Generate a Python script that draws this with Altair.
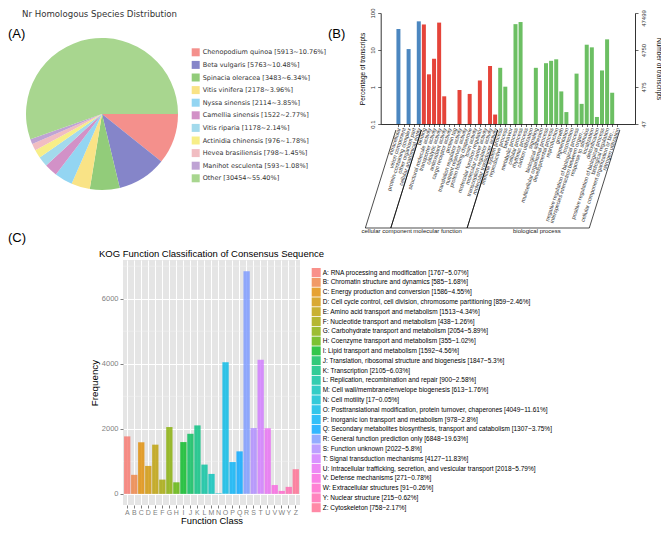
import math
import json
import pandas as pd
import altair as alt

# ---------------- Panel A : Nr homologous species ----------------
species = ["Chenopodium quinoa", "Beta vulgaris", "Spinacia oleracea", "Vitis vinifera",
           "Nyssa sinensis", "Camellia sinensis", "Vitis riparia", "Actinidia chinensis",
           "Hevea brasiliensis", "Manihot esculenta", "Other"]
species_counts = [5913, 5763, 3483, 2178, 2114, 1522, 1178, 976, 798, 593, 30454]
species_pct = ["10.76", "10.48", "6.34", "3.96", "3.85", "2.77", "2.14", "1.78", "1.45", "1.08", "55.40"]
species_colors = ["#F4908C", "#8585C9", "#92CC7A", "#F9E386", "#93D5F2", "#D291C7",
                  "#A3DAEC", "#F7EE88", "#F1BDC2", "#BFA3D4", "#A8D68F"]

# ---------------- Panel B : GO classification ----------------
go_terms = [
    "intracellular", "virion component", "protein-containing complex", "other organism part",
    "cellular anatomical entity",
    "binding", "structural molecule activity", "transporter activity", "catalytic activity",
    "antioxidant activity", "cargo receptor activity", "protein tag", "translation regulator activity",
    "nutrient reservoir activity", "protein folding chaperone", "toxin activity",
    "molecular function regulator", "molecular carrier activity", "transcription regulator activity",
    "molecular transducer activity",
    "immune system process", "reproductive process", "behavior", "metabolic process",
    "cellular process", "rhythmic process", "carbon utilization", "signaling", "biological adhesion",
    "multicellular organismal process", "developmental process", "reproduction", "growth",
    "pigmentation", "locomotion", "negative regulation of biological process",
    "interspecies interaction between organisms", "response to stimulus", "localization",
    "detoxification", "positive regulation of biological process", "biological regulation",
    "cellular component organization or biogenesis", "nitrogen utilization",
]
go_pct = [37, 0, 10.6, 0, 59.5,
          49, 2.2, 5.8, 55, 0.56, 0, 0, 0.83, 0, 0.65, 0, 1.5, 0, 3.7, 0.18,
          3.3, 1.02, 0, 50, 57, 0, 0, 3.3, 0, 4.4, 5.1, 5.6, 0.76, 0.21, 0, 2.3, 0.35,
          13.9, 11.8, 0.155, 2.8, 19.4, 0.7, 0]
go_groups = ["cellular component", "molecular function", "biological process"]
go_group_start = [0, 5, 20]
go_group_end = [4, 19, 43]
go_group_colors = ["#4C87C0", "#E5443A", "#6CBF63"]
go_total = 47499

# ---------------- Panel C : KOG classification ----------------
kog_classes = list("ABCDEFGHIJKLMNOPQRSTUVWYZ")
kog_names = [
    "RNA processing and modification", "Chromatin structure and dynamics",
    "Energy production and conversion",
    "Cell cycle control, cell division, chromosome partitioning",
    "Amino acid transport and metabolism", "Nucleotide transport and metabolism",
    "Carbohydrate transport and metabolism", "Coenzyme transport and metabolism",
    "Lipid transport and metabolism", "Translation, ribosomal structure and biogenesis",
    "Transcription", "Replication, recombination and repair",
    "Cell wall/membrane/envelope biogenesis", "Cell motility",
    "Posttranslational modification, protein turnover, chaperones",
    "Inorganic ion transport and metabolism",
    "Secondary metabolites biosynthesis, transport and catabolism",
    "General function prediction only", "Function unknown", "Signal transduction mechanisms",
    "Intracellular trafficking, secretion, and vesicular transport", "Defense mechanisms",
    "Extracellular structures", "Nuclear structure", "Cytoskeleton",
]
kog_counts = [1767, 585, 1586, 859, 1513, 438, 2054, 355, 1592, 1847, 2105, 900, 613, 17,
              4049, 978, 1307, 6848, 2022, 4127, 2018, 271, 91, 215, 758]
kog_pct = ["5.07", "1.68", "4.55", "2.46", "4.34", "1.26", "5.89", "1.02", "4.56", "5.3",
           "6.03", "2.58", "1.76", "0.05", "11.61", "2.8", "3.75", "19.63", "5.8", "11.83",
           "5.79", "0.78", "0.26", "0.62", "2.17"]
kog_minor = [1000, 3000, 5000, 7000]


def hcl_hex(h, c=100.0, l=65.0):
    hr = math.radians(h)
    U, V = c * math.cos(hr), c * math.sin(hr)
    Xn, Yn, Zn = 95.047, 100.0, 108.883
    den = Xn + 15 * Yn + 3 * Zn
    un, vn = 4 * Xn / den, 9 * Yn / den
    Y = Yn * ((l + 16) / 116) ** 3
    u = U / (13 * l) + un
    v = V / (13 * l) + vn
    X = Y * 9 * u / (4 * v)
    Z = Y * (12 - 3 * u - 20 * v) / (4 * v)
    X, Y, Z = X / 100, Y / 100, Z / 100
    rgb = [3.240479 * X - 1.537150 * Y - 0.498535 * Z,
           -0.969256 * X + 1.875992 * Y + 0.041556 * Z,
           0.055648 * X - 0.204043 * Y + 1.057311 * Z]
    out = []
    for ch in rgb:
        ch = 12.92 * ch if ch <= 0.0031308 else 1.055 * ch ** (1 / 2.4) - 0.055
        out.append(int(round(max(0, min(1, ch)) * 255)))
    return "#%02X%02X%02X" % tuple(out)


kog_colors = [hcl_hex(15 + i * 360 / len(kog_classes)) for i in range(len(kog_classes))]

# ---------------- tables ----------------
pie_labels = [f"{s} [{n}~{p}%]" for s, n, p in zip(species, species_counts, species_pct)]
pie_df = pd.DataFrame({"label": pie_labels, "count": species_counts, "idx": range(len(species))})

grp_of = []
for i in range(len(go_terms)):
    for g, s, e in zip(go_groups, go_group_start, go_group_end):
        if s <= i <= e:
            grp_of.append(g)
go_df = pd.DataFrame({"slot": range(len(go_terms)), "term": go_terms, "pct": go_pct, "group": grp_of})
bar_df = go_df[go_df["pct"] > 0].copy()
bar_df["base"] = 0.1

SLANT = 6.0
grp_df = pd.DataFrame({"group": go_groups, "start": go_group_start, "end": go_group_end})
grp_df["xb_l"] = grp_df["start"] - 0.5 - SLANT
grp_df["xb_r"] = grp_df["end"] + 0.5 - SLANT
grp_df["xlab"] = (grp_df["start"] + grp_df["end"]) / 2 - 4.3
slant_df = pd.concat([
    pd.DataFrame({"xt": grp_df["start"] - 0.5, "xb": grp_df["xb_l"]}),
    pd.DataFrame({"xt": grp_df["end"] + 0.5, "xb": grp_df["xb_r"]}),
], ignore_index=True)

kog_labels = [f"{c}: {n} [{k}~{p}%]" for c, n, k, p in zip(kog_classes, kog_names, kog_counts, kog_pct)]
kog_df = pd.DataFrame({"cls": kog_classes, "count": kog_counts, "label": kog_labels})
minor_df = pd.DataFrame({"v": kog_minor})


def note(txt, x, y, **kw):
    return alt.Chart(pd.DataFrame({"t": [txt]})).mark_text(**kw).encode(
        x=alt.value(x), y=alt.value(y), text="t:N")


# ---------------- top view (pie + GO) ----------------
GO_X0, GO_X1 = 257.7, 512
xsc = alt.Scale(domain=[-2.5, 45.5], range=[GO_X0, GO_X1], nice=False, zero=False)
ysc = alt.Scale(type="log", domain=[0.1, 100], nice=False)
term_expr = json.dumps(go_terms) + "[datum.value]"
xaxis = alt.Axis(
    values=list(range(len(go_terms))), labelExpr=term_expr, labelAngle=-72,
    labelFontSize=5.5, labelFont="Liberation Sans", labelColor="#333333",
    labelOverlap=False, labelLimit=100, labelPadding=1, tickSize=2.5, tickWidth=0.6,
    tickColor="black", domainColor="black", domainWidth=0.8, grid=False, title=None)

bars = alt.Chart(bar_df).mark_bar(size=4).encode(
    x=alt.X("slot:Q", scale=xsc, axis=xaxis),
    y=alt.Y("pct:Q", scale=ysc, axis=alt.Axis(
        orient="left", offset=-GO_X0, values=[0.1, 1, 10, 100], format="~g", labelAngle=-90,
        labelFontSize=6, labelFont="Liberation Sans", labelColor="#333333", labelPadding=2,
        tickSize=3, tickWidth=0.6, tickColor="black", domainColor="black", domainWidth=0.8,
        grid=False, title="Percentage of transcripts", titleFontSize=6.5,
        titleFont="Liberation Sans", titleFontWeight="normal", titleColor="black", titlePadding=4)),
    y2="base:Q",
    color=alt.Color("group:N", scale=alt.Scale(domain=go_groups, range=go_group_colors), legend=None),
)

raxis = alt.Chart(bar_df).mark_point(opacity=0).encode(
    y=alt.Y("pct:Q", scale=ysc, axis=alt.Axis(
        orient="right", values=[0.1, 1, 10, 100],
        labelExpr=f"format(datum.value * {go_total / 100}, 'd')", labelAngle=-90,
        labelOffset={"condition": {"test": "datum.value >= 100", "value": 5}, "value": 0},
        labelFontSize=6, labelFont="Liberation Sans", labelColor="#333333", labelPadding=2,
        tickSize=3, tickWidth=0.6, tickColor="black", domainColor="black", domainWidth=0.8,
        grid=False, title="Number of transcripts", titleFontSize=6.5,
        titleFont="Liberation Sans", titleFontWeight="normal", titleColor="black", titlePadding=9)),
)

BR_TOP, BR_BOT = 117, 215
slants = alt.Chart(slant_df).mark_rule(color="black", strokeWidth=0.7).encode(
    x=alt.X("xt:Q", axis=xaxis), x2="xb:Q", y=alt.value(BR_TOP), y2=alt.value(BR_BOT))
bottoms = alt.Chart(grp_df).mark_rule(color="black", strokeWidth=0.7).encode(
    x=alt.X("xb_l:Q", axis=xaxis), x2="xb_r:Q", y=alt.value(BR_BOT))
grp_text = alt.Chart(grp_df).mark_text(fontSize=6, font="Liberation Sans", color="#222222",
                                       baseline="middle").encode(
    x=alt.X("xlab:Q", axis=xaxis), y=alt.value(218), text="group:N")

pie = alt.Chart(pie_df).mark_arc(outerRadius=76, x=-21, y=101).encode(
    theta=alt.Theta("count:Q", stack=True,
                    scale=alt.Scale(range=[math.pi / 2, math.pi / 2 + 2 * math.pi])),
    order=alt.Order("idx:Q"),
    color=alt.Color("label:N", sort=pie_labels,
                    scale=alt.Scale(domain=pie_labels, range=species_colors),
                    legend=alt.Legend(orient="none", legendX=68.7, legendY=35.3, title=None,
                                      symbolType="square", symbolSize=64, symbolStrokeWidth=0,
                                      labelFont="DejaVu Sans", labelFontSize=6.5,
                                      labelColor="#333333", rowPadding=4.6, labelOffset=3,
                                      labelLimit=300)),
)

tA = note("(A)", -115, 21, fontSize=13, font="Liberation Sans", align="left", color="black")
tB = note("(B)", 205, 21, fontSize=13, font="Liberation Sans", align="left", color="black")
tTitle = note("Nr Homologous Species Distribution", -101, 0.5, fontSize=8.6, font="DejaVu Sans",
              align="left", baseline="middle", color="#333333")

top = alt.layer(bars, raxis, slants, bottoms, grp_text, pie, tA, tB, tTitle).resolve_scale(
    y="independent", color="independent").properties(width=512, height=111)

# ---------------- KOG view ----------------
KOG_W, KOG_H = 177, 245
kysc = alt.Scale(domain=[-342.4, 7190.4], nice=False, zero=False)
minor = alt.Chart(minor_df).mark_rule(color="#F2F2F2", strokeWidth=0.5).encode(
    y=alt.Y("v:Q", scale=kysc))
kbars = alt.Chart(kog_df).mark_bar(opacity=0.8).encode(
    x=alt.X("cls:N", sort=kog_classes,
            scale=alt.Scale(domain=kog_classes, paddingInner=0.1, paddingOuter=0.15),
            axis=alt.Axis(title="Function Class", labelAngle=0, labelColor="#7F7F7F",
                          labelFontSize=7, labelFont="Liberation Sans", labelPadding=0,
                          tickColor="#7F7F7F", tickSize=3, domain=False, grid=True,
                          gridColor="white", gridWidth=1, titleFontSize=9.4,
                          titleFont="Liberation Sans", titleFontWeight="normal",
                          titleColor="black", titlePadding=1)),
    y=alt.Y("count:Q", scale=kysc,
            axis=alt.Axis(title="Frequency", values=[0, 2000, 4000, 6000], format="d",
                          labelColor="#7F7F7F", labelFontSize=7.5, labelFont="Liberation Sans",
                          labelPadding=2, tickColor="#7F7F7F", tickSize=3, domain=False,
                          grid=True, gridColor="white", gridWidth=1, titleFontSize=9.8,
                          titleFont="Liberation Sans", titleFontWeight="normal",
                          titleColor="black", titlePadding=2)),
    color=alt.Color("label:N", sort=kog_labels,
                    scale=alt.Scale(domain=kog_labels, range=kog_colors),
                    legend=alt.Legend(orient="none", legendX=188.7, legendY=8, title=None,
                                      symbolType="square", symbolSize=81, symbolOpacity=0.8,
                                      symbolStrokeWidth=0, labelFont="Liberation Sans",
                                      labelFontSize=6.5, labelColor="black", rowPadding=0.8,
                                      labelOffset=2, labelLimit=400)),
)
tC = note("(C)", -115, -22, fontSize=13, font="Liberation Sans", align="left", color="black")
tK = note("KOG Function Classification of Consensus Sequence", KOG_W / 2, -6, fontSize=9.5,
          font="Liberation Sans", align="center", baseline="middle", color="black")

kog = alt.layer(minor, kbars, tC, tK).properties(
    width=KOG_W, height=KOG_H,
    view=alt.ViewBackground(fill="#E5E5E5", stroke=None),
)

chart = alt.vconcat(top, kog, spacing=136, bounds="flush").resolve_scale(
    color="independent").properties(
    autosize=alt.AutoSizeParams(type="none"),
    padding={"left": 115, "top": 5, "right": 538, "bottom": 513},
).configure_view(stroke=None)

chart.save("out.html", embed_options={"renderer": "svg", "actions": False})
